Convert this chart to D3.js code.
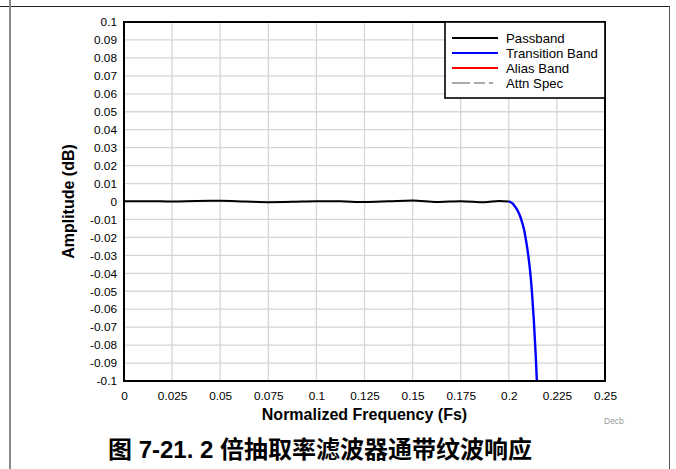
<!DOCTYPE html>
<html>
<head>
<meta charset="utf-8">
<script src="https://cdn.jsdelivr.net/npm/d3@7/dist/d3.min.js"></script>
<style>
  html, body { margin: 0; padding: 0; background: #fff; }
  svg { display: block; }
  text { font-family: "Liberation Sans", Arial, Helvetica, sans-serif; }
</style>
</head>
<body>
<svg id="chart" width="676" height="469"></svg>
<script>
// Passband ripple (dB) vs normalized frequency (Fs)
const passbandFreq = [0, 0.0125, 0.025, 0.0375, 0.05, 0.0625, 0.075, 0.0875, 0.1, 0.1125, 0.125, 0.1375, 0.15, 0.1625, 0.175, 0.1875, 0.195, 0.2];
const passbandDb   = [0.0001, 0.0002, 0.0000, 0.0003, 0.0004, 0.0000, -0.0004, -0.0002, 0.0002, 0.0001, -0.0003, 0.0001, 0.0006, -0.0003, 0.0002, -0.0004, 0.0003, 0.0];

// Transition band roll-off
const transitionFreq = [0.2, 0.201, 0.202, 0.203, 0.204, 0.205, 0.206, 0.207, 0.208, 0.209, 0.210, 0.211, 0.212, 0.213, 0.214, 0.215];
const transitionDb   = [0, -0.0004, -0.0012, -0.0025, -0.004, -0.006, -0.0085, -0.012, -0.016, -0.022, -0.029, -0.038, -0.050, -0.066, -0.086, -0.11];

const xTicks = [0, 0.025, 0.05, 0.075, 0.1, 0.125, 0.15, 0.175, 0.2, 0.225, 0.25];
const yTicks = [0.1, 0.09, 0.08, 0.07, 0.06, 0.05, 0.04, 0.03, 0.02, 0.01, 0, -0.01, -0.02, -0.03, -0.04, -0.05, -0.06, -0.07, -0.08, -0.09, -0.1];

const legendNames  = ["Passband", "Transition Band", "Alias Band", "Attn Spec"];
const legendColors = ["#000000", "#0000ff", "#ff0000", "#aaaaaa"];

const svg = d3.select("#chart");
const plot = { left: 124, top: 22, right: 605, bottom: 381 };

// page frame
svg.append("line").attr("x1", 0).attr("x2", 670).attr("y1", 6.5).attr("y2", 6.5)
  .attr("stroke", "#222").attr("stroke-width", 1);
svg.append("line").attr("x1", 10).attr("x2", 10).attr("y1", 0).attr("y2", 469)
  .attr("stroke", "#888").attr("stroke-width", 2);
svg.append("line").attr("x1", 669.5).attr("x2", 669.5).attr("y1", 6).attr("y2", 469)
  .attr("stroke", "#555").attr("stroke-width", 1);

const x = d3.scaleLinear().domain([0, 0.25]).range([plot.left, plot.right]);
const y = d3.scaleLinear().domain([-0.1, 0.1]).range([plot.bottom, plot.top]);

const defs = svg.append("defs");
defs.append("clipPath").attr("id", "plotClip").append("rect")
  .attr("x", plot.left).attr("y", plot.top)
  .attr("width", plot.right - plot.left).attr("height", plot.bottom - plot.top);

// grid
const grid = svg.append("g");
grid.selectAll("line.v").data(xTicks).join("line")
  .attr("x1", d => x(d)).attr("x2", d => x(d))
  .attr("y1", plot.top).attr("y2", plot.bottom)
  .attr("stroke", "#d6d6d6").attr("stroke-width", 1.3);
grid.selectAll("line.h").data(yTicks).join("line")
  .attr("x1", plot.left).attr("x2", plot.right)
  .attr("y1", d => y(d)).attr("y2", d => y(d))
  .attr("stroke", "#d6d6d6").attr("stroke-width", 1.3);

// axes (labels only, frame drawn separately)
const xAxis = svg.append("g").attr("transform", `translate(0,${plot.bottom})`)
  .call(d3.axisBottom(x).tickValues(xTicks).tickSize(0).tickPadding(11)
    .tickFormat(d => String(+d.toFixed(3))));
xAxis.select(".domain").remove();
xAxis.selectAll("text").attr("font-size", 11.8).attr("fill", "#000")
  .style("font-family", "'Liberation Sans', Arial, sans-serif");

const yAxis = svg.append("g").attr("transform", `translate(${plot.left},0)`)
  .call(d3.axisLeft(y).tickValues(yTicks).tickSize(0).tickPadding(7)
    .tickFormat(d => String(+d.toFixed(2))));
yAxis.select(".domain").remove();
yAxis.selectAll("text").attr("font-size", 11.8).attr("fill", "#000")
  .style("font-family", "'Liberation Sans', Arial, sans-serif");

// series
const line = d3.line().x(d => x(d[0])).y(d => y(d[1]));
const series = svg.append("g").attr("clip-path", "url(#plotClip)");
series.append("path")
  .datum(passbandFreq.map((f, i) => [f, passbandDb[i]]))
  .attr("d", line.curve(d3.curveMonotoneX))
  .attr("fill", "none").attr("stroke", "#000").attr("stroke-width", 2);
series.append("path")
  .datum(transitionFreq.map((f, i) => [f, transitionDb[i]]))
  .attr("d", line.curve(d3.curveMonotoneX))
  .attr("fill", "none").attr("stroke", "#0000ff").attr("stroke-width", 2.4);

// plot border
svg.append("rect").attr("x", plot.left).attr("y", plot.top)
  .attr("width", plot.right - plot.left).attr("height", plot.bottom - plot.top)
  .attr("fill", "none").attr("stroke", "#000").attr("stroke-width", 2);

// legend
const lg = svg.append("g");
lg.append("rect").attr("x", 445).attr("y", plot.top).attr("width", plot.right - 445).attr("height", 76)
  .attr("fill", "#fff").attr("stroke", "#000").attr("stroke-width", 1.6);
legendNames.forEach((name, i) => {
  const ly = 38 + i * 15;
  lg.append("line").attr("x1", 452).attr("x2", 498).attr("y1", ly).attr("y2", ly)
    .attr("stroke", legendColors[i]).attr("stroke-width", 2)
    .attr("stroke-dasharray", name === "Attn Spec" ? "18,4,11,4,4" : null);
  lg.append("text").attr("x", 506).attr("y", ly + 4.5).attr("font-size", 13.2)
    .attr("fill", "#000").text(name);
});

// axis titles
svg.append("text").attr("x", (plot.left + plot.right) / 2).attr("y", 419.5)
  .attr("text-anchor", "middle").attr("font-size", 16).attr("font-weight", "bold")
  .text("Normalized Frequency (Fs)");
svg.append("text").attr("transform", `translate(74,${(plot.top + plot.bottom) / 2}) rotate(-90)`)
  .attr("text-anchor", "middle").attr("font-size", 16).attr("font-weight", "bold")
  .text("Amplitude (dB)");

svg.append("text").attr("x", 604).attr("y", 424).attr("font-size", 8.5)
  .attr("fill", "#999").text("Decb");

// caption
svg.append("text").attr("x", 108).attr("y", 458)
  .attr("font-size", 24).attr("font-weight", "bold")
  .style("font-family", "'Liberation Sans', 'Noto Sans CJK SC', Arial, sans-serif")
  .text("图 7-21. 2 倍抽取率滤波器通带纹波响应");
</script>
</body>
</html>
